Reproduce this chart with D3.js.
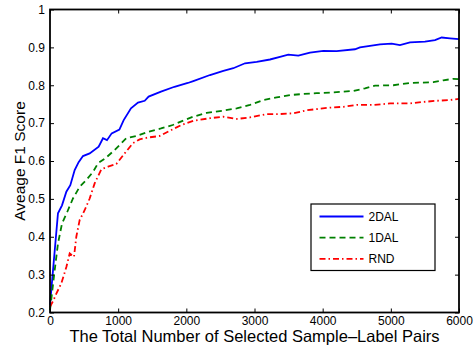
<!DOCTYPE html>
<html>
<head>
<meta charset="utf-8">
<script src="https://cdn.jsdelivr.net/npm/d3@7"></script>
<style>
  body { margin: 0; background: #fff; }
  svg { font-family: "Liberation Sans", Arial, sans-serif; }
</style>
</head>
<body>
<svg id="chart" width="474" height="345"></svg>
<script>
const xTicks = [0, 1000, 2000, 3000, 4000, 5000, 6000];
const yTicks = [0.2, 0.3, 0.4, 0.5, 0.6, 0.7, 0.8, 0.9, 1];

const seriesNames = ['2DAL', '1DAL', 'RND'];

const x2DAL = [0, 117, 176, 240, 298, 362, 420, 484, 582, 714, 777, 836, 905, 1018, 1081, 1188, 1291, 1389, 1447, 1628, 1826, 2022, 2102, 2347, 2543, 2689, 2861, 3032, 3227, 3374, 3496, 3643, 3814, 4010, 4205, 4474, 4547, 4841, 5012, 5134, 5281, 5501, 5648, 5746, 5868, 6000];
const f2DAL = [0.22, 0.462, 0.483, 0.519, 0.536, 0.576, 0.597, 0.613, 0.62, 0.638, 0.66, 0.655, 0.673, 0.683, 0.708, 0.739, 0.754, 0.759, 0.77, 0.783, 0.796, 0.806, 0.811, 0.827, 0.838, 0.845, 0.858, 0.862, 0.868, 0.875, 0.881, 0.878, 0.886, 0.891, 0.89, 0.895, 0.9, 0.908, 0.91, 0.906, 0.913, 0.915, 0.919, 0.926, 0.924, 0.922];

const x1DAL = [0, 69, 117, 176, 254, 337, 435, 533, 631, 704, 811, 948, 1119, 1266, 1438, 1628, 1800, 1971, 2102, 2298, 2543, 2738, 2934, 3130, 3325, 3521, 3716, 3912, 4157, 4450, 4621, 4768, 5037, 5281, 5623, 5769, 5916, 6000];
const f1DAL = [0.206, 0.312, 0.382, 0.435, 0.466, 0.501, 0.532, 0.55, 0.571, 0.594, 0.607, 0.629, 0.66, 0.666, 0.677, 0.686, 0.695, 0.708, 0.717, 0.727, 0.733, 0.739, 0.748, 0.761, 0.768, 0.774, 0.777, 0.779, 0.781, 0.785, 0.792, 0.799, 0.8, 0.806, 0.808, 0.813, 0.817, 0.816];

const xRND = [0, 50, 93, 166, 240, 289, 352, 386, 435, 508, 582, 655, 753, 851, 973, 1095, 1217, 1315, 1438, 1609, 1780, 1927, 2102, 2347, 2543, 2738, 2934, 3179, 3374, 3570, 3765, 4107, 4303, 4499, 4743, 4988, 5281, 5476, 5672, 5868, 6000];
const fRND = [0.215, 0.232, 0.25, 0.277, 0.32, 0.356, 0.347, 0.4, 0.444, 0.47, 0.501, 0.541, 0.578, 0.585, 0.592, 0.62, 0.647, 0.657, 0.662, 0.666, 0.682, 0.695, 0.706, 0.713, 0.717, 0.711, 0.715, 0.724, 0.724, 0.726, 0.734, 0.741, 0.743, 0.748, 0.748, 0.752, 0.752, 0.756, 0.759, 0.761, 0.764];

const styles = [
  { color: '#0000ff', dash: null },
  { color: '#008000', dash: '6,4' },
  { color: '#ff0000', dash: '6,3,1.5,3' },
];

const svg = d3.select('#chart');
const margin = { top: 9.5, right: 15, bottom: 32.5, left: 50 };
const width = 474;
const height = 345;

const x = d3.scaleLinear().domain([0, 6000]).range([margin.left, width - margin.right]);
const y = d3.scaleLinear().domain([0.2, 1]).range([height - margin.bottom, margin.top]);

const data = [
  x2DAL.map((v, i) => [v, f2DAL[i]]),
  x1DAL.map((v, i) => [v, f1DAL[i]]),
  xRND.map((v, i) => [v, fRND[i]]),
];

const line = d3.line().x((d) => x(d[0])).y((d) => y(d[1]));

data.forEach((d, i) => {
  svg
    .append('path')
    .datum(d)
    .attr('fill', 'none')
    .attr('stroke', styles[i].color)
    .attr('stroke-width', 1.8)
    .attr('stroke-dasharray', styles[i].dash)
    .attr('d', line);
});

// axes, MATLAB style: ticks point inward on all four sides
const fmtY = (d) => (d === 1 ? '1' : d3.format('.1f')(d));
const axisStyle = (g) => {
  g.selectAll('.domain').remove();
  g.selectAll('line').attr('stroke', '#000').attr('stroke-width', 1);
  g.selectAll('text').attr('font-size', 12).attr('fill', '#000');
};

svg
  .append('g')
  .attr('transform', `translate(0,${y(0.2)})`)
  .call(d3.axisBottom(x).tickValues(xTicks).tickFormat(d3.format('d')).tickSizeInner(-4).tickSizeOuter(0).tickPadding(4))
  .call(axisStyle);
svg
  .append('g')
  .attr('transform', `translate(0,${y(1)})`)
  .call(d3.axisTop(x).tickValues(xTicks).tickFormat('').tickSizeInner(-4).tickSizeOuter(0))
  .call(axisStyle);
svg
  .append('g')
  .attr('transform', `translate(${x(0)},0)`)
  .call(d3.axisLeft(y).tickValues(yTicks).tickFormat(fmtY).tickSizeInner(-4).tickSizeOuter(0).tickPadding(5))
  .call(axisStyle);
svg
  .append('g')
  .attr('transform', `translate(${x(6000)},0)`)
  .call(d3.axisRight(y).tickValues(yTicks).tickFormat('').tickSizeInner(-4).tickSizeOuter(0))
  .call(axisStyle);

svg
  .append('rect')
  .attr('x', x(0))
  .attr('y', y(1))
  .attr('width', x(6000) - x(0))
  .attr('height', y(0.2) - y(1))
  .attr('fill', 'none')
  .attr('stroke', '#000')
  .attr('stroke-width', 1.8);

svg
  .append('text')
  .attr('x', (x(0) + x(6000)) / 2)
  .attr('y', 342)
  .attr('text-anchor', 'middle')
  .attr('font-size', 16.5)
  .text('The Total Number of Selected Sample\u2013Label Pairs');

svg
  .append('text')
  .attr('transform', `translate(24.5,${(y(0.2) + y(1)) / 2}) rotate(-90)`)
  .attr('text-anchor', 'middle')
  .attr('font-size', 15.5)
  .text('Aveage F1 Score');

// legend
const legend = svg.append('g').attr('transform', 'translate(311,204)');
legend
  .append('rect')
  .attr('width', 124)
  .attr('height', 66.5)
  .attr('fill', '#fff')
  .attr('stroke', '#000')
  .attr('stroke-width', 1.2);

seriesNames.forEach((name, i) => {
  const yy = 12.5 + i * 21.2;
  legend
    .append('line')
    .attr('x1', 8.5)
    .attr('x2', 52.5)
    .attr('y1', yy)
    .attr('y2', yy)
    .attr('stroke', styles[i].color)
    .attr('stroke-width', 1.8)
    .attr('stroke-dasharray', styles[i].dash);
  legend
    .append('text')
    .attr('x', 57.5)
    .attr('y', yy + 4.3)
    .attr('font-size', 12)
    .text(name);
});
</script>
</body>
</html>
